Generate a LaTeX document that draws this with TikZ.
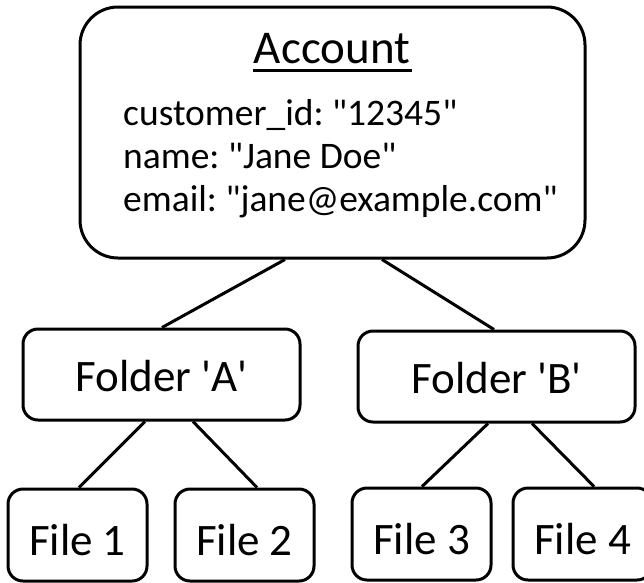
\documentclass[tikz,border=0pt]{standalone}
\usepackage{fontspec}
\setmainfont{Carlito}[Ligatures=TeXOff]
\usetikzlibrary{positioning}

\begin{document}
\frenchspacing
\begin{tikzpicture}[
        x=1pt, y=-1pt,
        box/.style={
                draw=black,
                line width=3pt,
                rounded corners=15pt,
                inner sep=0pt,
                font=\fontsize{45}{54}\selectfont
            },
        account/.style={
                box,
                rounded corners=38pt,
                minimum width=505pt,
                minimum height=251pt
            },
        folder/.style={
                box,
                text height=33pt,
                text depth=0pt,
                minimum width=277pt,
                minimum height=91pt
            },
        file/.style={
                box,
                text height=40pt,
                text depth=0pt,
                minimum width=139pt,
                minimum height=92pt
            },
        link/.style={line width=3pt},
    ]
    \useasboundingbox (0,0) rectangle (644,582);
    %account
    \node[account] (acct) at (332.5,132.5) {};
    \node[anchor=base, inner sep=0pt, font=\fontsize{47}{56}\selectfont] (accttitle) at (332,63) {Account};
    \draw[line width=3pt] ([yshift=-7pt,xshift=-1pt]accttitle.base west) -- ([yshift=-7pt,xshift=2pt]accttitle.base east);
    \node[anchor=base west, align=left, inner sep=0pt, font=\fontsize{37.5}{43.3}\selectfont] (acctattrs) at (123,211.7)
        {customer\_id: "12345"\\ name: "Jane Doe"\\ email: "jane@example.com"};
    %folders
    \node[folder] (fa) at (161.5,374.5) {Folder 'A'};
    \node[folder] (fb) at (496.5,376.5) {Folder 'B'};
    %files
    \node[file] (f1) at (77.5,535) {File 1};
    \node[file] (f2) at (244.5,535) {File 2};
    \node[file] (f3) at (421.5,534) {File 3};
    \node[file] (f4) at (582.5,534) {File 4};
    %links
    \draw[link] ([xshift=-47.5pt]acct.south) -- ([xshift=0.5pt]fa.north);
    \draw[link] ([xshift=49.5pt]acct.south) -- ([xshift=-2.5pt]fb.north);
    \draw[link] ([xshift=-16.5pt]fa.south) -- ([xshift=1.5pt]f1.north);
    \draw[link] ([xshift=31.5pt]fa.south) -- ([xshift=12.5pt]f2.north);
    \draw[link] ([xshift=-8.5pt]fb.south) -- ([xshift=0.5pt]f3.north);
    \draw[link] ([xshift=35.5pt]fb.south) -- ([xshift=11.5pt]f4.north);
\end{tikzpicture}
\end{document}
